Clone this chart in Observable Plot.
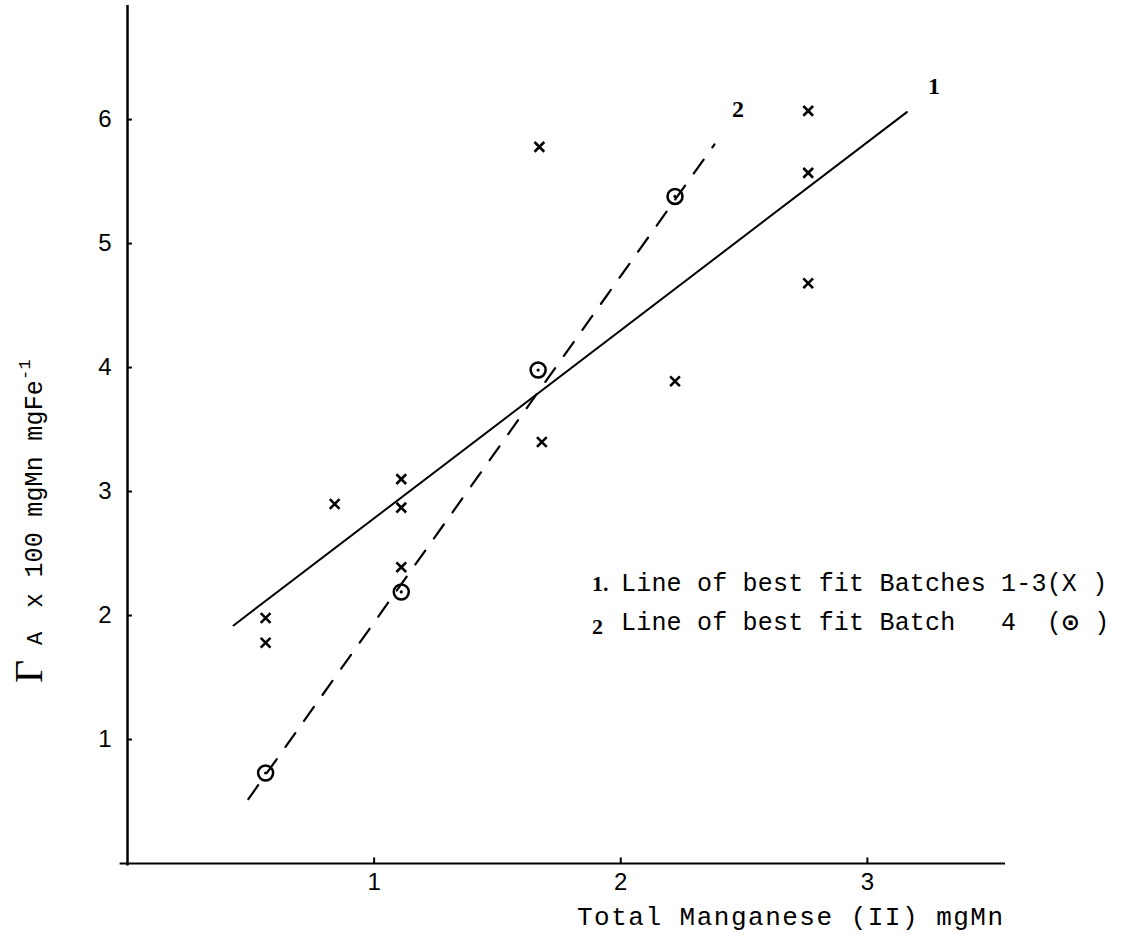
<!DOCTYPE html>
<html>
<head>
<meta charset="utf-8">
<script src="https://cdn.jsdelivr.net/npm/d3@7"></script>
<script src="https://cdn.jsdelivr.net/npm/@observablehq/plot@0.6"></script>
<style>
  html, body { margin: 0; padding: 0; background: #fff; }
  #chart svg { display: block; }
</style>
</head>
<body>
<div id="chart"></div>
<script>
// Batches 1-3 (X markers)
const batchX = [0.56, 0.56, 0.84, 1.11, 1.11, 1.11, 1.67, 1.68, 2.22, 2.76, 2.76, 2.76];
const batchY = [1.98, 1.78, 2.90, 3.10, 2.87, 2.39, 5.78, 3.40, 3.89, 6.07, 5.57, 4.68];
// Batch 4 (circled dot markers)
const batch4X = [0.56, 1.11, 1.665, 2.22];
const batch4Y = [0.73, 2.19, 3.98, 5.38];
// Line of best fit 1 (solid) and 2 (dashed): end points
const fit1X = [0.43, 3.16];
const fit1Y = [1.92, 6.06];
const fit2X = [0.49, 2.38];
const fit2Y = [0.52, 5.80];
// Line labels
const lineLabels = ["1", "2"];
const lineLabelX = [3.27, 2.475];
const lineLabelY = [6.27, 6.08];
// Ticks
const xTicks = [1, 2, 3];
const yTicks = [1, 2, 3, 4, 5, 6];
// Texts
const xTitle = "Total Manganese (II) mgMn";
const legend1 = "Line of best fit Batches 1-3(X )";
const legend2a = "Line of best fit Batch   4  (";
const legend2b = "\u2299";
const legend2c = " )";

const batches = batchX.map((x, i) => ({x, y: batchY[i]}));
const batch4 = batch4X.map((x, i) => ({x, y: batch4Y[i]}));
const fit1 = fit1X.map((x, i) => ({x, y: fit1Y[i]}));
const fit2 = fit2X.map((x, i) => ({x, y: fit2Y[i]}));
const labels = lineLabels.map((t, i) => ({t, x: lineLabelX[i], y: lineLabelY[i]}));

const svg = Plot.plot({
  width: 1138,
  height: 935,
  marginLeft: 127,
  marginRight: 133,
  marginTop: 5,
  marginBottom: 72,
  x: {domain: [0, 3.56]},
  y: {domain: [0, 6.92]},
  style: {fontFamily: "Liberation Sans", fontSize: "24px", color: "black", background: "white"},
  marks: [
    Plot.axisX(xTicks, {tickSize: 0, tickPadding: 9, label: null, tickFormat: d => String(d), fontSize: 24}),
    Plot.axisY(yTicks, {tickSize: 0, tickPadding: 16, label: null, tickFormat: d => String(d), fontSize: 24}),
    Plot.ruleY([0], {x1: -0.03, x2: 3.56, stroke: "black", strokeWidth: 2.2}),
    Plot.ruleX([0], {y1: -0.02, y2: 6.92, stroke: "black", strokeWidth: 2.5}),
    Plot.ruleX(xTicks, {y1: 0, y2: 0.045, stroke: "black", strokeWidth: 2}),
    Plot.ruleY(yTicks, {x1: 0, x2: 0.02, stroke: "black", strokeWidth: 2}),
    Plot.line(fit1, {x: "x", y: "y", stroke: "black", strokeWidth: 2}),
    Plot.line(fit2, {x: "x", y: "y", stroke: "black", strokeWidth: 2.2, strokeDasharray: "17,15"}),
    Plot.dot(batches, {x: "x", y: "y", symbol: "times", r: 4.5, stroke: "black", strokeWidth: 2.6}),
    Plot.dot(batch4, {x: "x", y: "y", r: 7.5, stroke: "black", strokeWidth: 2.5, fill: "none"}),
    Plot.dot(batch4, {x: "x", y: "y", r: 1.6, fill: "black"}),
    Plot.text(labels, {x: "x", y: "y", text: "t", fontFamily: "Liberation Serif", fontWeight: "bold", fontSize: 24, fill: "black"})
  ]
});

const s = d3.select(svg);
s.selectAll('g[aria-label="x-axis tick label"], g[aria-label="y-axis tick label"]')
  .style("font-size", "24px");
s.selectAll('g[aria-label="x-axis tick label"] text, g[aria-label="y-axis tick label"] text')
  .style("font-size", "24px");

const mono = "Liberation Mono";

function addText(parent, x, y, str, opts) {
  const t = parent.append("text")
    .attr("x", x).attr("y", y)
    .attr("text-anchor", opts.anchor || "start")
    .attr("font-family", opts.family || mono)
    .attr("font-size", opts.size || 25)
    .attr("fill", "black")
    .style("white-space", "pre");
  if (opts.weight) t.attr("font-weight", opts.weight);
  if (opts.spacing != null) t.attr("letter-spacing", opts.spacing);
  t.text(str);
  return t;
}

// x-axis title
addText(s, 577, 925, xTitle, {size: 26, spacing: 1.5});

// y-axis title (rotated)
const yl = s.append("g").attr("transform", "translate(42,683) rotate(-90)");
addText(yl, 0, 0, "\u0393", {family: "Liberation Serif", size: 40});
addText(yl, 38, 0, "A", {size: 22});
const yt = addText(yl, 75, 0, "x 100 mgMn mgFe", {size: 25, spacing: 0.2});
yt.append("tspan").attr("dy", -12).attr("font-size", 17).text("-1");

// legend
const pitch = 25 * 0.6 + 0.2;
addText(s, 592, 591, "1.", {family: "Liberation Serif", weight: "bold", size: 22});
addText(s, 621, 591, legend1, {size: 25, spacing: 0.2});
addText(s, 592, 634, "2", {family: "Liberation Serif", weight: "bold", size: 22});
addText(s, 621, 630, legend2a, {size: 25, spacing: 0.2});
addText(s, 621 + legend2a.length * pitch + pitch / 2 + 1, 630, legend2b,
  {family: "DejaVu Sans", weight: "bold", size: 23, anchor: "middle"});
addText(s, 621 + (legend2a.length + 1) * pitch + 2, 630, legend2c, {size: 25, spacing: 0.2});

document.getElementById("chart").appendChild(svg);
</script>
</body>
</html>
